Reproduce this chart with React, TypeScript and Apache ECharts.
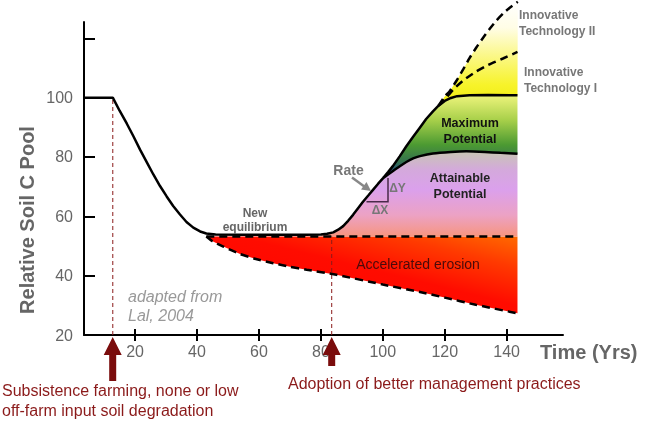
import React, { useEffect, useRef } from "react";
import * as echarts from "echarts";

// ---- data (Years, Relative Soil C Pool) ----
const xTicks = [20, 40, 60, 80, 100, 120, 140];
const yTicks = [20, 40, 60, 80, 100, 120];
const yLabels = [20, 40, 60, 80, 100];

const mainCurve: [number, number][] = [
  [3.5, 100], [12.8, 100], [15, 95.6], [17.3, 91.3], [19.5, 86.9], [21.6, 82.5],
  [23.8, 78.2], [25.9, 74.1], [28, 70.3], [30.2, 66.7], [32.3, 63.5], [34.5, 60.6],
  [36.6, 58.1], [38.8, 56.2], [41, 54.9], [43, 54.2], [46, 53.9], [55, 53.8],
  [65, 53.8], [75, 53.8], [80, 53.9], [82, 54.1], [84, 54.6], [85.6, 55.5],
  [87.2, 56.7], [88.8, 58.5], [90.4, 60.5], [92, 62.7], [93.6, 64.9], [95.3, 67],
  [96.9, 69], [98.5, 71], [100.1, 72.9], [101.7, 74.9], [103.3, 77], [105.5, 80.3],
  [107.6, 83.6], [109.8, 86.8], [111.9, 89.8], [114, 92.8], [116.2, 95.4],
  [118, 97.3], [120, 98.9], [122, 99.9], [124, 100.5], [128, 100.8], [134, 100.9],
  [143.5, 100.8],
];
const attainableCurve: [number, number][] = [
  [100.1, 72.9], [101.7, 74.1], [103.3, 75.3], [105.5, 76.9], [107.6, 78.3],
  [109.8, 79.5], [112, 80.3], [116.2, 81.2], [122, 81.7], [127, 81.9], [133, 81.7],
  [138, 81.4], [143.5, 81.1],
];
const techOneCurve: [number, number][] = [
  [118, 97.3], [120.5, 100], [123, 103], [126, 105.8], [130, 108.7], [134, 111],
  [138.8, 113.2], [143.5, 115.4],
];
const techTwoCurve: [number, number][] = [
  [118, 97.3], [120, 100.4], [121.6, 102.2], [123.8, 105.7], [126, 109.6],
  [128, 113.3], [130.2, 116.9], [132.4, 120.2], [134.6, 123.3], [136.7, 126],
  [138.9, 128.4], [141, 130.3], [143.6, 132.3],
];
const equilibriumLine: [number, number][] = [[43, 53.2], [143.5, 53.2]];
const erosionLower: [number, number][] = [
  [43, 53.2], [45, 51.6], [48.5, 49.8], [53.9, 47.3], [59, 45.6], [64.6, 44.2],
  [70, 43], [75.4, 42], [85, 40.3], [100, 37], [112, 34.5], [120, 32.6],
  [130, 30.2], [143.5, 27.3],
];
const startLine: [number, number][] = [[12.8, 20], [12.8, 100]];
const adoptLine: [number, number][] = [[83.5, 20], [83.5, 53.2]];

const FONT = "'Liberation Sans', Arial, sans-serif";

function rev<T>(a: T[]): T[] {
  return a.slice().reverse();
}

function polySeries(points: [number, number][], fill: any) {
  return {
    type: "custom",
    clip: false,
    silent: true,
    z: 1,
    data: [[100, 60]],
    renderItem: (_p: any, api: any) => ({
      type: "polygon",
      shape: { points: points.map((p) => api.coord(p)) },
      style: { fill },
    }),
  };
}

function lineSeries(data: [number, number][], color: string, width: number, dash: any, smooth: any = false) {
  return {
    type: "line",
    data,
    symbol: "none",
    smooth,
    clip: false,
    silent: true,
    z: 3,
    lineStyle: { color, width, type: dash },
  };
}

function upArrow(cx: number, tipY: number, headY: number, bottomY: number) {
  return {
    type: "polygon",
    z: 50,
    silent: true,
    shape: {
      points: [
        [cx, tipY], [cx + 9, headY], [cx + 3.5, headY], [cx + 3.5, bottomY],
        [cx - 3.5, bottomY], [cx - 3.5, headY], [cx - 9, headY],
      ],
    },
    style: { fill: "#7a0c0c" },
  };
}

export default function App() {
  const ref = useRef<HTMLDivElement>(null);
  useEffect(() => {
    if (!ref.current) return;
    const chart = echarts.init(ref.current, undefined, { renderer: "svg" });
    const G = echarts.graphic;

    const pinkUpper = mainCurve.filter((p) => p[0] >= 80 && p[0] <= 100.1).concat(attainableCurve.slice(1));
    const pinkPoly = pinkUpper.concat([[143.5, 53.2], [80, 53.2]]);
    const maxPoly = mainCurve.filter((p) => p[0] >= 100.1).concat(rev(attainableCurve));
    const yellowPoly = techTwoCurve.concat(rev(mainCurve.filter((p) => p[0] >= 118)));
    const redPoly = equilibriumLine.concat(rev(erosionLower));

    const redFill = new G.LinearGradient(0, 1, 1, 0, [
      { offset: 0, color: "#ff0000" },
      { offset: 0.55, color: "#ff0c00" },
      { offset: 0.8, color: "#ff3a00" },
      { offset: 1, color: "#ff6a00" },
    ]);
    const pinkFill = new G.LinearGradient(0, 0, 0, 1, [
      { offset: 0, color: "#c8c6b4" },
      { offset: 0.22, color: "#d4a9dc" },
      { offset: 0.45, color: "#dba0ec" },
      { offset: 0.75, color: "#eca2c4" },
      { offset: 1, color: "#f7957f" },
    ]);
    const maxFill = new G.LinearGradient(0, 0, 0, 1, [
      { offset: 0, color: "#eef47c" },
      { offset: 0.3, color: "#a8d04a" },
      { offset: 0.6, color: "#4c9a32" },
      { offset: 0.8, color: "#35724e" },
      { offset: 1, color: "#1f3fa0" },
    ]);
    const yellowFill = new G.LinearGradient(0, 0, 0, 1, [
      { offset: 0, color: "#ffffff" },
      { offset: 0.25, color: "#fffde6" },
      { offset: 0.5, color: "#fbf88e" },
      { offset: 0.8, color: "#f7f32a" },
      { offset: 1, color: "#f0ec10" },
    ]);

    const txt = (x: number, y: number, text: string, style: any, extra: any = {}) => ({
      type: "text",
      x,
      y,
      z: 50,
      silent: true,
      ...extra,
      style: { text, fontFamily: FONT, ...style },
    });
    const mid = { align: "center", verticalAlign: "middle" };

    chart.setOption({
      animation: false,
      grid: { left: 84, right: 83, top: 22, bottom: 86, containLabel: false, outerBoundsMode: "none" },
      xAxis: [
        {
          type: "value",
          min: 3.5,
          max: 158.2,
          splitLine: { show: false },
          axisLine: { lineStyle: { color: "#000", width: 2 } },
          axisTick: { inside: true, length: 6, customValues: xTicks, lineStyle: { color: "#000", width: 2 } },
          axisLabel: { customValues: xTicks, color: "#666", fontSize: 16, fontFamily: FONT, margin: 8 },
        },
        {
          type: "value",
          min: 3.5,
          max: 158.2,
          position: "bottom",
          splitLine: { show: false },
          axisLine: { show: false },
          axisTick: { inside: false, length: 6, customValues: xTicks, lineStyle: { color: "#000", width: 2 } },
          axisLabel: { show: false },
        },
      ],
      yAxis: {
        type: "value",
        min: 20,
        max: 125.5,
        splitLine: { show: false },
        axisLine: { show: true, lineStyle: { color: "#000", width: 2 } },
        axisTick: { show: true, inside: true, length: 11, customValues: yTicks, lineStyle: { color: "#000", width: 2 } },
        axisLabel: { customValues: yLabels, color: "#666", fontSize: 16, fontFamily: FONT, margin: 11 },
      },
      series: [
        polySeries(redPoly, redFill),
        polySeries(pinkPoly, pinkFill),
        polySeries(maxPoly, maxFill),
        polySeries(yellowPoly, yellowFill),
        lineSeries(startLine, "#8b1a1a", 1, [4, 3]),
        lineSeries(adoptLine, "#8b1a1a", 1, [4, 3]),
        lineSeries(equilibriumLine, "#000", 2.5, [8, 5]),
        lineSeries(erosionLower, "#000", 2.5, [8, 5], 0.2),
        lineSeries(techOneCurve, "#000", 2.5, [8, 5], 0.2),
        lineSeries(techTwoCurve, "#000", 2.5, [8, 5], 0.2),
        lineSeries(attainableCurve, "#000", 2.5, "solid", 0.2),
        lineSeries(mainCurve, "#000", 2.5, "solid"),
      ],
      graphic: [
        txt(27, 220, "Relative Soil C Pool", { fontSize: 20, fontWeight: "bold", fill: "#666", ...mid }, { rotation: Math.PI / 2 }),
        txt(540, 352, "Time (Yrs)", { fontSize: 20, fontWeight: "bold", fill: "#666", verticalAlign: "middle" }),
        txt(255, 213, "New", { fontSize: 12, fontWeight: "bold", fill: "#666", ...mid }),
        txt(255, 227, "equilibrium", { fontSize: 12, fontWeight: "bold", fill: "#666", ...mid }),
        txt(470, 123, "Maximum", { fontSize: 12.5, fontWeight: "bold", fill: "#111", ...mid }),
        txt(470, 139, "Potential", { fontSize: 12.5, fontWeight: "bold", fill: "#111", ...mid }),
        txt(460, 178, "Attainable", { fontSize: 12.5, fontWeight: "bold", fill: "#222", ...mid }),
        txt(460, 193.5, "Potential", { fontSize: 12.5, fontWeight: "bold", fill: "#222", ...mid }),
        txt(418, 263.5, "Accelerated erosion", { fontSize: 14, fill: "#4a0a0a", ...mid }),
        txt(519, 15, "Innovative", { fontSize: 12, fontWeight: "bold", fill: "#777", verticalAlign: "middle" }),
        txt(519, 31, "Technology II", { fontSize: 12, fontWeight: "bold", fill: "#777", verticalAlign: "middle" }),
        txt(524, 72, "Innovative", { fontSize: 12, fontWeight: "bold", fill: "#777", verticalAlign: "middle" }),
        txt(524, 87.5, "Technology I", { fontSize: 12, fontWeight: "bold", fill: "#777", verticalAlign: "middle" }),
        txt(128, 296, "adapted from", { fontSize: 16, fontStyle: "italic", fill: "#999", verticalAlign: "middle" }),
        txt(128, 315.5, "Lal, 2004", { fontSize: 16, fontStyle: "italic", fill: "#999", verticalAlign: "middle" }),
        txt(348.5, 170, "Rate", { fontSize: 14, fontWeight: "bold", fill: "#777", ...mid }),
        {
          type: "line",
          z: 50,
          silent: true,
          shape: { x1: 352, y1: 177.5, x2: 365, y2: 187 },
          style: { stroke: "#888", lineWidth: 2.5 },
        },
        {
          type: "polygon",
          z: 50,
          silent: true,
          shape: { points: [[371, 191], [361, 189.5], [366.5, 182]] },
          style: { fill: "#888" },
        },
        {
          type: "polyline",
          z: 50,
          silent: true,
          shape: { points: [[366.5, 201.7], [388, 201.7], [388, 178]] },
          style: { stroke: "#4a2a4a", lineWidth: 1.5 },
        },
        txt(397.5, 188, "\u0394Y", { fontSize: 12, fontWeight: "bold", fill: "#777", ...mid }),
        txt(380, 209.5, "\u0394X", { fontSize: 12, fontWeight: "bold", fill: "#777", ...mid }),
        upArrow(112.7, 337, 355, 381),
        upArrow(331.7, 337, 355, 366),
        txt(2, 390, "Subsistence farming, none or low", { fontSize: 16, fill: "#8b1a1a", verticalAlign: "middle" }),
        txt(2, 410, "off-farm input soil degradation", { fontSize: 16, fill: "#8b1a1a", verticalAlign: "middle" }),
        txt(288, 383, "Adoption of better management practices", { fontSize: 16, fill: "#8b1a1a", verticalAlign: "middle" }),
      ],
    });
    return () => chart.dispose();
  }, []);
  return <div ref={ref} style={{ width: 646, height: 421, position: "fixed", left: 0, top: 0 }} />;
}
